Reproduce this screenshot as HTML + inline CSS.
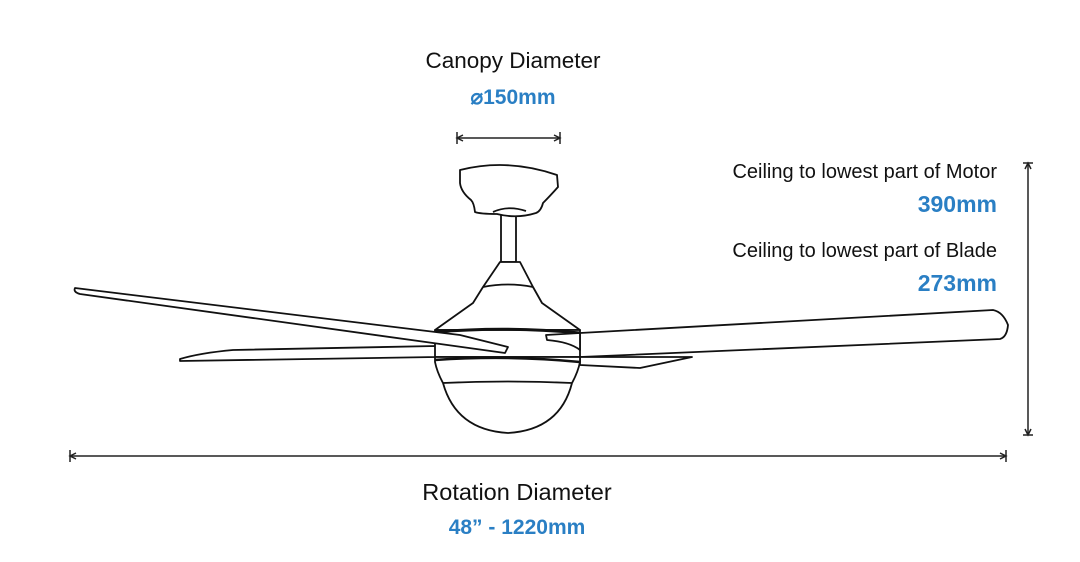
<!DOCTYPE html>
<html><head><meta charset="utf-8"><style>
html,body{margin:0;padding:0;background:#fff;}
svg{display:block;}
.t{font-family:"Liberation Sans",sans-serif;fill:#111;}
.b{font-family:"Liberation Sans",sans-serif;fill:#2a7fc4;font-weight:bold;}
</style></head><body>
<svg width="1080" height="562" viewBox="0 0 1080 562" xmlns="http://www.w3.org/2000/svg">
<g fill="#fff" stroke="#111" stroke-width="1.8" stroke-linejoin="round">
<path d="M546 335 L580 333 L993 310 Q1003 312 1008 325 Q1007 337 1000 339 L580 357 Q575 345 547 340 Z"/>
<path d="M580 357 L692 357 L640 368 L580 365 Z"/>
<path d="M180 359 Q200 353 233 350 L436 346 L436 357 L180 361 Z"/>
<rect x="501" y="212" width="15" height="50"/>
<path d="M460 170 Q508 158 557 175 L558 187 Q550 196 543 203 Q541 211 536 213 Q517 219 497 214 Q480 214 475 212 Q474 203 471 200 Q461 192 460 183 Z"/>
<path d="M493 212 Q508 205 526 211" fill="none"/>
<path d="M500 262 L520 262 L533 287 L542 303 L580 330 L435 330 L473 303 L483 287 Z"/>
<path d="M483 287 Q508 282 533 287" fill="none"/>
<path d="M435 330 L580 330 L580 357 L435 357 Z"/>
<path d="M435 332 Q508 326 580 333" fill="none" stroke-width="3"/>
<path d="M435 357 L580 357 L580 362 Q578 372 572 383 Q560 430 508 433 Q456 430 443 383 Q437 372 435 362 Z"/>
<path d="M435 360 Q508 355 580 362" fill="none" stroke-width="2.5"/>
<path d="M443 383 Q508 380 572 383" fill="none"/>
<path d="M75 288 Q73 292 80 294 L433 343 L505 353 L508 347 L460 335 Z"/>
<path d="M546 335 L580 333 L580 350 Q570 342 547 340 Z"/>
</g>
<g stroke="#222" stroke-width="1.5" fill="none">
<line x1="457" y1="138" x2="560" y2="138"/><line x1="457" y1="132" x2="457" y2="144"/><line x1="560" y1="132" x2="560" y2="144"/>
<path d="M463 135 L457 138 L463 141 M554 135 L560 138 L554 141"/>
<line x1="1028" y1="163" x2="1028" y2="435"/><line x1="1023" y1="163" x2="1033" y2="163"/><line x1="1023" y1="435" x2="1033" y2="435"/>
<path d="M1025 169 L1028 163 L1031 169 M1025 429 L1028 435 L1031 429"/>
<line x1="70" y1="456" x2="1006" y2="456"/><line x1="70" y1="450" x2="70" y2="462"/><line x1="1006" y1="450" x2="1006" y2="462"/>
<path d="M76 453 L70 456 L76 459 M1000 453 L1006 456 L1000 459"/>
</g>
<text class="t" x="513" y="68" font-size="22.5" text-anchor="middle">Canopy Diameter</text>
<text class="b" x="513" y="104" font-size="21" text-anchor="middle">⌀150mm</text>
<text class="t" x="997" y="178" font-size="20" text-anchor="end">Ceiling to lowest part of Motor</text>
<text class="b" x="997" y="212" font-size="23" text-anchor="end">390mm</text>
<text class="t" x="997" y="257" font-size="20" text-anchor="end">Ceiling to lowest part of Blade</text>
<text class="b" x="997" y="291" font-size="23" text-anchor="end">273mm</text>
<text class="t" x="517" y="500" font-size="23.5" text-anchor="middle">Rotation Diameter</text>
<text class="b" x="517" y="534" font-size="21" text-anchor="middle">48” - 1220mm</text>
</svg>
</body></html>
